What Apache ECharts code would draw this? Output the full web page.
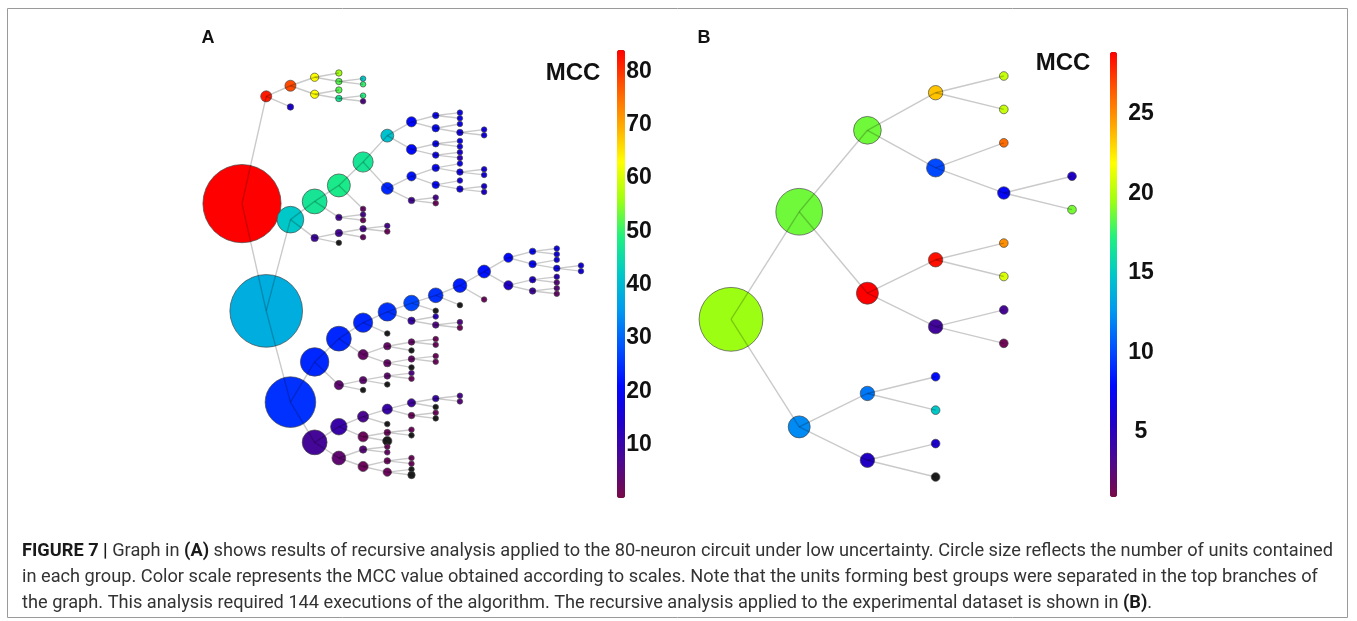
<!DOCTYPE html>
<html>
<head>
<meta charset="utf-8">
<script src="https://cdn.jsdelivr.net/npm/echarts@6/dist/echarts.min.js"></script>
<style>
html, body { margin: 0; padding: 0; background: #fff; }
#chart { width: 1357px; height: 621px; }
</style>
</head>
<body>
<div id="chart"></div>
<script>
// A: recursive analysis of the 80-neuron circuit, nodes in preorder (top branch first)
var parentA = [
    -1, 0, 1, 2, 3, 3, 5, 5, 2, 8,
    8, 10, 10, 1, 0, 14, 15, 16, 17, 18,
    19, 20, 21, 21, 20, 24, 24, 26, 26, 19,
    29, 30, 30, 29, 33, 33, 18, 36, 37, 38,
    38, 40, 40, 37, 43, 43, 45, 45, 36, 48,
    48, 17, 16, 52, 52, 15, 55, 56, 57, 57,
    56, 55, 14, 62, 63, 64, 65, 66, 67, 68,
    69, 70, 71, 72, 72, 71, 75, 75, 77, 77,
    70, 80, 81, 81, 80, 84, 84, 69, 68, 67,
    66, 90, 90, 92, 92, 65, 64, 96, 97, 98,
    98, 97, 96, 102, 103, 103, 102, 63, 107, 108,
    109, 109, 108, 107, 62, 114, 115, 116, 117, 118,
    119, 119, 118, 117, 123, 123, 116, 115, 127, 128,
    128, 127, 114, 132, 133, 133, 132, 136, 137, 137,
    136, 140, 140
];
// MCC of each group, -1 = no value (drawn black)
var mccA = [
    84, 82, 78, 63, 56, 52, 42, 50, 63, 52,
    47, 49, 6, 15, 38, 42, 47, 48, 47, 41,
    21, 19, 18, 18, 20, 18, 17, 17, 17, 21,
    19, 18, 17, 18, 15, 12, 24, 22, 20, 18,
    17, 16, 16, 20, 16, 17, 15, 14, 8, 7,
    2, 3, 8, 7, 2, 9, 8, 7, 7, 2,
    3, -1, 25, 24, 24, 24, 25, 27, 25, 23,
    22, 21, 20, 18, 17, 20, 17, 18, 17, 17,
    14, 14, 12, 5, 9, 5, 3, 2, -1, -1,
    10, 12, 6, 6, 2, -1, 3, 3, 3, 2,
    2, -1, 3, 3, 2, 2, -1, 4, 4, 4,
    6, 2, -1, -1, 8, 10, 7, 10, 9, 10,
    7, 5, -1, 2, 2, -1, -1, 2, 2, 2,
    -1, -1, 4, 5, 2, 3, 2, 2, 2, 2,
    2, -1, -1
];
// number of units in each group
var unitsA = [
    80, 7, 7, 4, 2, 2, 1, 1, 4, 2,
    2, 1, 1, 2, 74, 24, 22, 20, 17, 9,
    6, 2, 1, 1, 3, 1, 2, 1, 1, 6,
    2, 1, 1, 2, 1, 1, 8, 5, 3, 1,
    2, 1, 1, 3, 1, 2, 1, 1, 2, 1,
    1, 1, 2, 1, 1, 3, 3, 2, 1, 1,
    1, 1, 50, 26, 22, 16, 15, 12, 11, 10,
    9, 5, 2, 1, 1, 3, 1, 2, 1, 1,
    5, 2, 1, 1, 2, 1, 1, 1, 1, 1,
    3, 1, 2, 1, 1, 1, 6, 3, 2, 1,
    1, 1, 3, 2, 1, 1, 1, 5, 3, 2,
    1, 1, 1, 1, 22, 13, 7, 6, 4, 2,
    1, 1, 1, 2, 1, 1, 1, 6, 2, 1,
    1, 5, 10, 3, 1, 1, 6, 2, 1, 1,
    4, 1, 3
];

// B: experimental dataset
var parentB = [-1, 0, 1, 2, 3, 3, 2, 6, 6, 8, 8, 1, 11, 12, 12, 11, 15, 15, 0, 18, 19, 19, 18, 22, 22];
var mccB = [19.5, 18.7, 18.7, 23.5, 20.5, 20.5, 10, 26, 7.5, 5.5, 18.8, 28.9, 28.5, 25, 21, 3.7, 3.5, 1.4, 12.1, 11.5, 8, 14.9, 5.4, 5.8, -1];
var unitsB = [32, 23, 13, 6, 3, 3, 8, 3, 5, 3, 3, 10, 6, 3, 3, 6, 3, 3, 10, 6, 3, 3, 6, 3, 3];

// colour scales
var rangeA = [0, 84], stepA = 10;
var rangeB = [0.9, 28.9], stepB = 5;
var mccColors = ['#7a0a48', '#4b0890', '#2000c8', '#0008ff', '#0050ff', '#0098f0', '#00c8c8',
    '#20f080', '#a0ff10', '#ffff00', '#ffa800', '#ff5800', '#ff0000'];

var captionLines = [
    '{b|FIGURE 7 |} Graph in {b|(A)} shows results of recursive analysis applied to the 80-neuron circuit under low uncertainty. Circle size reflects the number of units contained',
    'in each group. Color scale represents the MCC value obtained according to scales. Note that the units forming best groups were separated in the top branches of',
    'the graph. This analysis required 144 executions of the algorithm. The recursive analysis applied to the experimental dataset is shown in {b|(B)}.'
];

var FONT = "'Liberation Sans', Arial, sans-serif";
var CAPFONT = "Roboto, 'Liberation Sans', sans-serif";

// tidy tree: x = depth, leaves spaced evenly, parent halfway between first and last child
function treeLayout(parent, mcc, units) {
    var n = parent.length, depth = [], pos = [], kids = [], leaf = 0, maxDepth = 0, i;
    for (i = 0; i < n; i++) kids.push([]);
    for (i = 0; i < n; i++) {
        depth[i] = parent[i] < 0 ? 0 : depth[parent[i]] + 1;
        maxDepth = Math.max(maxDepth, depth[i]);
        if (parent[i] >= 0) kids[parent[i]].push(i);
    }
    for (i = 0; i < n; i++) if (!kids[i].length) pos[i] = leaf++;
    for (i = n - 1; i >= 0; i--) {
        if (kids[i].length) pos[i] = (pos[kids[i][0]] + pos[kids[i][kids[i].length - 1]]) / 2;
    }
    var nodes = [], edges = [];
    for (i = 0; i < n; i++) {
        nodes.push([depth[i], pos[i], mcc[i], units[i]]);
        if (parent[i] >= 0) {
            var p = parent[i];
            edges.push({ coords: [[depth[p], pos[p]], [depth[i], pos[i]]] });
        }
    }
    return { nodes: nodes, edges: edges, leaves: leaf, depth: maxDepth };
}

function fitSize(text, width, family) {
    var ctx = document.createElement('canvas').getContext('2d');
    ctx.font = '100px ' + family;
    return 100 * width / ctx.measureText(text.replace(/\{b\|([^}]*)\}/g, '$1')).width;
}

var treeA = treeLayout(parentA, mccA, unitsA);
var treeB = treeLayout(parentB, mccB, unitsB);

function hiddenAxis(i, min, max, inverse) {
    return { type: 'value', gridIndex: i, min: min, max: max, inverse: !!inverse, show: false };
}
function tickAxis(i, min, max, step) {
    return {
        type: 'value', gridIndex: i, min: min, max: max, interval: step,
        axisLine: { show: false }, axisTick: { show: false }, splitLine: { show: false },
        axisLabel: {
            margin: 0, align: 'center', fontSize: 23, fontWeight: 'bold', color: '#111', fontFamily: FONT,
            formatter: function (v) { return (v > 0 && Math.abs(v % step) < 1e-6) ? String(v) : ''; }
        }
    };
}
function edgeSeries(tree, ax) {
    return {
        type: 'lines', coordinateSystem: 'cartesian2d', xAxisIndex: ax, yAxisIndex: ax,
        data: tree.edges, z: 3, silent: true, clip: false,
        lineStyle: { color: 'rgba(0,0,0,0.21)', width: 1.4, opacity: 1 }
    };
}
function nodeSeries(tree, ax, base, k) {
    return {
        type: 'scatter', xAxisIndex: ax, yAxisIndex: ax, data: tree.nodes, z: 2, clip: false,
        encode: { x: 0, y: 1 },
        symbolSize: function (v) { return base + k * v[3]; },
        itemStyle: { borderColor: 'rgba(70,70,70,0.85)', borderWidth: 0.8, opacity: 1 }
    };
}
// values below the scale (no MCC) fall outside the selected range and are drawn black
function mccScale(series, range, left, top, width, height) {
    return {
        type: 'continuous', seriesIndex: series, dimension: 2, min: range[0], max: range[1],
        range: [range[0] + 0.001, range[1]],
        left: left, top: top, itemWidth: width, itemHeight: height, padding: 0,
        calculable: false, hoverLink: false,
        inRange: { color: mccColors }, outOfRange: { color: '#1c1c1c' }
    };
}

var capSize = fitSize(captionLines[0], 1310, CAPFONT);
var graphic = [
    { type: 'rect', silent: true, shape: { x: 7.5, y: 8.5, width: 1340, height: 609 },
      style: { fill: 'none', stroke: '#9a9a9a', lineWidth: 1 } },
    { type: 'text', x: 208, y: 38, style: { text: 'A', font: 'bold 18px ' + FONT, fill: '#111', align: 'center', verticalAlign: 'middle' } },
    { type: 'text', x: 704, y: 38, style: { text: 'B', font: 'bold 18px ' + FONT, fill: '#111', align: 'center', verticalAlign: 'middle' } },
    { type: 'text', x: 573, y: 73, style: { text: 'MCC', font: 'bold 24px ' + FONT, fill: '#111', align: 'center', verticalAlign: 'middle' } },
    { type: 'text', x: 1063, y: 63, style: { text: 'MCC', font: 'bold 24px ' + FONT, fill: '#111', align: 'center', verticalAlign: 'middle' } }
];
captionLines.forEach(function (line, i) {
    graphic.push({
        type: 'text', x: 22, y: 551 + i * 26,
        style: {
            text: line, fontSize: capSize, fontFamily: CAPFONT, fill: '#333',
            align: 'left', verticalAlign: 'middle',
            rich: { b: { fontWeight: 'bold', fontSize: capSize, fontFamily: CAPFONT, fill: '#1a1a1a' } }
        }
    });
});

var chart = echarts.init(document.getElementById('chart'));
chart.setOption({
    animation: false,
    backgroundColor: '#fff',
    textStyle: { fontFamily: FONT },
    grid: [
        { left: 242, top: 73, width: 339, height: 402 },
        { left: 731, top: 76, width: 341, height: 401 },
        { left: 639, top: 50, width: 1, height: 448 },
        { left: 1141, top: 52, width: 1, height: (rangeB[1] - 0) * 445 / (rangeB[1] - rangeB[0]) }
    ],
    xAxis: [
        hiddenAxis(0, 0, treeA.depth),
        hiddenAxis(1, 0, treeB.depth),
        hiddenAxis(2, 0, 1),
        hiddenAxis(3, 0, 1)
    ],
    yAxis: [
        hiddenAxis(0, 0, treeA.leaves - 1, true),
        hiddenAxis(1, 0, treeB.leaves - 1, true),
        tickAxis(2, rangeA[0], rangeA[1], stepA),
        tickAxis(3, 0, rangeB[1], stepB)
    ],
    visualMap: [
        mccScale(1, rangeA, 617, 50, 8, 448),
        mccScale(3, rangeB, 1110, 52, 7, 445)
    ],
    series: [
        edgeSeries(treeA, 0),
        nodeSeries(treeA, 0, 4.6, 0.92),
        edgeSeries(treeB, 1),
        nodeSeries(treeB, 1, 3, 1.9)
    ],
    graphic: graphic
});
</script>
</body>
</html>
